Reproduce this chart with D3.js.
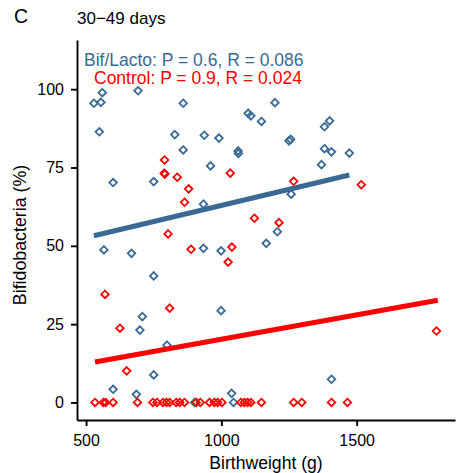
<!DOCTYPE html>
<html><head><meta charset="utf-8">
<script src="https://cdn.jsdelivr.net/npm/d3@7"></script>
<style>body{margin:0;background:#fff}svg{display:block}text{font-family:"Liberation Sans",Arial,sans-serif}</style>
</head><body>
<script>
// Bif/Lacto group [birthweight, bifidobacteria %]
const bifX = [529,560,555,692,859,549,1099,1109,1148,828,937,991,859,1062,1063,960,1198,1381,1400,1250,1256,1381,1407,1473,1370,600,750,934,566,668,934,999,1166,750,1258,1207,708,699,999,799,750,600,686,1038,1045,901,1407];
const bifY = [95.5,98.9,95.8,99.5,95.5,86.4,92.3,91.5,89.7,85.5,85.3,84.4,80.6,80.3,79.5,75.5,95.7,88,89.9,83.5,84.0,81,80,79.6,75.9,70.2,70.5,63.3,48.7,47.6,49.2,48.4,50.8,40.4,66.5,54.5,27.4,23.1,29.3,18.3,8.8,4.2,2.6,2.9,0,0,7.4];
// Control group
const ctlX = [790,789,791,837,879,1033,864,803,1122,888,1039,1025,1267,1517,1213,570,809,625,650,1795,
  533,564,572,600,690,747,762,784,797,809,833,846,864,907,922,956,974,986,1002,1072,1085,1097,1109,1148,1267,1297,1407,1466];
const ctlY = [77.4,73.2,72.9,71.9,68.2,73.2,63.9,53.8,58.8,48.9,49.6,44.8,70.6,69.5,57.4,34.5,30.1,23.7,10.1,22.8,
  0,0,0,0,0,0,0,0,0,0,0,0,0,0,0,0,0,0,0,0,0,0,0,0,0,0,0,0];
// fitted lines (endpoints)
const bifFitX = [529,1473], bifFitY = [53.2,72.6];
const ctlFitX = [533,1800], ctlFitY = [12.9,32.6];
const xTicks = [500,1000,1500];
const yTicks = [0,25,50,75,100];
const labels = ["Bif/Lacto: P = 0.6, R = 0.086","Control: P = 0.9, R = 0.024"];

const W=473,H=473, L=77,R=455,T=40,B=420;
const blue="#3A6A93", red="#FF0000";
const svg=d3.select("body").append("svg").attr("width",W).attr("height",H);
const x=d3.scaleLinear().domain([466.5,1863.5]).range([L,R]);
const y=d3.scaleLinear().domain([-5.6,115.7]).range([B,T]);

const gx=svg.append("g").attr("transform",`translate(0,${B})`)
  .call(d3.axisBottom(x).tickValues(xTicks).tickFormat(d3.format("d")).tickSize(6).tickPadding(9).tickSizeOuter(0));
const gy=svg.append("g").attr("transform",`translate(${L},0)`)
  .call(d3.axisLeft(y).tickValues(yTicks).tickFormat(d3.format("d")).tickSize(6).tickPadding(7).tickSizeOuter(0));
[gx,gy].forEach(g=>{
  g.select(".domain").attr("stroke","#000").attr("stroke-width",1.9);
  g.selectAll(".tick line").attr("stroke","#000").attr("stroke-width",1.9);
  g.selectAll(".tick text").attr("fill","#000").style("font-size","16px").style("font-family",'"Liberation Sans",Arial,sans-serif');
});

const diamond="M0,-3.8L3.8,0L0,3.8L-3.8,0Z";
function pts(X,Y,col){
  svg.append("g").selectAll("path").data(X.map((v,i)=>[v,Y[i]])).join("path")
    .attr("d",diamond).attr("transform",d=>`translate(${x(d[0])},${y(d[1])})`)
    .attr("fill","none").attr("stroke",col).attr("stroke-width",1.8);
}
pts(bifX,bifY,blue);
pts(ctlX,ctlY,red);
function fit(X,Y,col){
  svg.append("path").datum(X.map((v,i)=>[v,Y[i]]))
    .attr("d",d3.line().x(d=>x(d[0])).y(d=>y(d[1])))
    .attr("stroke",col).attr("stroke-width",5).attr("fill","none");
}
fit(bifFitX,bifFitY,blue);
fit(ctlFitX,ctlFitY,red);

svg.append("text").attr("x",84).attr("y",65.7).attr("fill",blue).style("font-size","17.5px").text(labels[0]);
svg.append("text").attr("x",94).attr("y",84).attr("fill",red).style("font-size","17.5px").text(labels[1]);

svg.append("text").attr("x",14).attr("y",23.3).style("font-size","19.5px").text("C");
svg.append("text").attr("x",77).attr("y",24).style("font-size","17px").text("30\u221249 days");
svg.append("text").attr("x",266).attr("y",469).attr("text-anchor","middle").style("font-size","17.6px").text("Birthweight (g)");
svg.append("text").attr("transform","translate(26,235) rotate(-90)").attr("text-anchor","middle").style("font-size","17.8px").text("Bifidobacteria (%)");
</script>
</body></html>
